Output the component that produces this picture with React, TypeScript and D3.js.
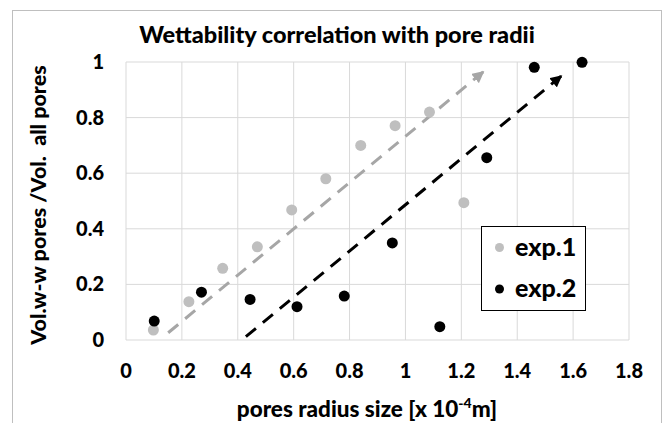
import React from "react";
import * as d3 from "d3";

const exp1X = [0.098, 0.225, 0.346, 0.47, 0.593, 0.715, 0.84, 0.963, 1.086, 1.209];
const exp1Y = [0.036, 0.138, 0.258, 0.335, 0.468, 0.58, 0.7, 0.771, 0.82, 0.494];
const exp2X = [0.101, 0.27, 0.444, 0.612, 0.781, 0.953, 1.123, 1.291, 1.461, 1.632];
const exp2Y = [0.068, 0.172, 0.146, 0.12, 0.158, 0.349, 0.048, 0.656, 0.981, 0.999];
const trend1X = [0.151, 1.279];
const trend1Y = [0.026, 0.965];
const trend2X = [0.429, 1.558];
const trend2Y = [0.012, 0.95];
const xTicks = [0, 0.2, 0.4, 0.6, 0.8, 1, 1.2, 1.4, 1.6, 1.8];
const yTicks = [0, 0.2, 0.4, 0.6, 0.8, 1];
const seriesNames = ["exp.1", "exp.2"];

const W = 670;
const H = 423;
const plot = { left: 126, right: 629, top: 62, bottom: 340 };
const FONT = "Lato, 'Open Sans', sans-serif";

export default function App() {
  const x = d3.scaleLinear().domain([0, 1.8]).range([plot.left, plot.right]);
  const y = d3.scaleLinear().domain([0, 1]).range([plot.bottom, plot.top]);
  const line = d3
    .line<[number, number]>()
    .x((d) => x(d[0]))
    .y((d) => y(d[1]));
  const t1: [number, number][] = trend1X.map((v, i) => [v, trend1Y[i]]);
  const t2: [number, number][] = trend2X.map((v, i) => [v, trend2Y[i]]);
  const gray = "#bfbfbf";
  const lineGray = "#a6a6a6";
  const W8 = 900;

  return (
    <svg
      width={W}
      height={H}
      style={{ position: "absolute", left: 0, top: 0, background: "#fff" }}
      fontFamily={FONT}
    >
      <defs>
        <marker id="arrGray" viewBox="0 0 10 10" refX="9" refY="5" markerWidth="4" markerHeight="4" orient="auto" markerUnits="strokeWidth">
          <path d="M0,0 L10,5 L0,10 z" fill={lineGray} />
        </marker>
        <marker id="arrBlack" viewBox="0 0 10 10" refX="9" refY="5" markerWidth="4" markerHeight="4" orient="auto" markerUnits="strokeWidth">
          <path d="M0,0 L10,5 L0,10 z" fill="#000" />
        </marker>
      </defs>
      <rect x={12.5} y={10.5} width={649} height={430} fill="#fff" stroke="#bfbfbf" strokeWidth={1} />
      <text x={337} y={43} textAnchor="middle" fontSize={23.5} fontWeight={W8} fill="#000">
        Wettability correlation with pore radii
      </text>
      {/* grid */}
      {xTicks.map((t) => (
        <line key={"gx" + t} x1={x(t)} x2={x(t)} y1={plot.top} y2={plot.bottom} stroke="#d9d9d9" strokeWidth={1} />
      ))}
      {yTicks.map((t) => (
        <line key={"gy" + t} x1={plot.left} x2={plot.right} y1={y(t)} y2={y(t)} stroke="#d9d9d9" strokeWidth={1} />
      ))}
      {/* tick labels */}
      {xTicks.map((t) => (
        <text key={"tx" + t} x={x(t)} y={378} textAnchor="middle" fontSize={20} fontWeight={W8} fill="#000">
          {String(t)}
        </text>
      ))}
      {yTicks.map((t) => (
        <text key={"ty" + t} x={104} y={y(t) + 7} textAnchor="end" fontSize={20} fontWeight={W8} fill="#000">
          {String(t)}
        </text>
      ))}
      {/* axis titles */}
      <text x={367} y={417} textAnchor="middle" fontSize={22.5} fontWeight={W8} fill="#000">
        pores radius size [x 10
        <tspan fontSize={14} dy={-9}>-4</tspan>
        <tspan dy={9}>m]</tspan>
      </text>
      <text
        transform="translate(46,205) rotate(-90)"
        textAnchor="middle"
        fontSize={21.5}
        fontWeight={W8}
        fill="#000"
        style={{ whiteSpace: "pre" }}
      >
        {"Vol.w-w pores /Vol.  all pores"}
      </text>
      {/* trend lines */}
      <path d={line(t1) || ""} fill="none" stroke={lineGray} strokeWidth={3} strokeDasharray="13,9" markerEnd="url(#arrGray)" />
      <path d={line(t2) || ""} fill="none" stroke="#000" strokeWidth={3} strokeDasharray="13,9" markerEnd="url(#arrBlack)" />
      {/* points */}
      {exp1X.map((v, i) => (
        <circle key={"a" + i} cx={x(v)} cy={y(exp1Y[i])} r={5.5} fill={gray} />
      ))}
      {exp2X.map((v, i) => (
        <circle key={"b" + i} cx={x(v)} cy={y(exp2Y[i])} r={5.5} fill="#000" />
      ))}
      {/* legend */}
      <rect x={481.5} y={226.5} width={104} height={84} fill="#fff" stroke="#000" strokeWidth={1} />
      <circle cx={499.5} cy={247.5} r={4.5} fill={gray} />
      <text x={515} y={255.5} fontSize={25} fontWeight={W8} fill="#000">{seriesNames[0]}</text>
      <circle cx={499.5} cy={289} r={4.5} fill="#000" />
      <text x={515} y={297} fontSize={25} fontWeight={W8} fill="#000">{seriesNames[1]}</text>
    </svg>
  );
}
